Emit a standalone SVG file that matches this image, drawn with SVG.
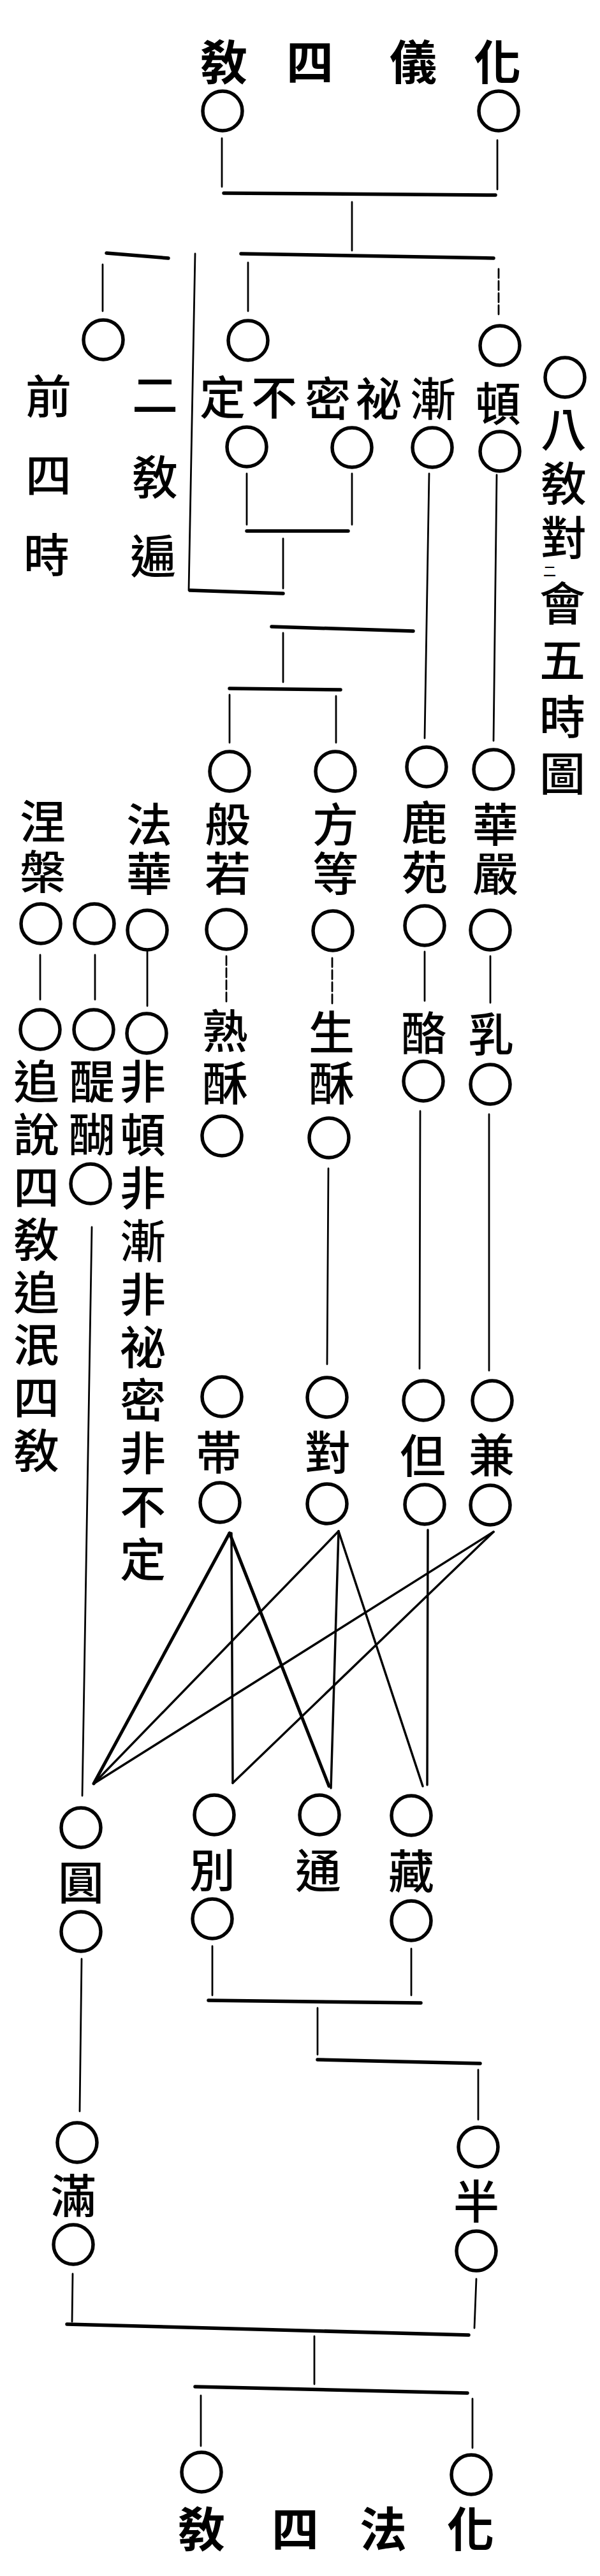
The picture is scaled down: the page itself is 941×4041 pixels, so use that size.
<svg xmlns="http://www.w3.org/2000/svg" width="941" height="4041" viewBox="0 0 941 4041">
<style>
.t{font-family:"Noto Sans CJK TC","Noto Sans CJK SC",sans-serif;font-size:72px;font-weight:500;text-anchor:middle;dominant-baseline:central;fill:#000}
.v{writing-mode:vertical-rl;text-anchor:start}
.tt{font-weight:700;font-size:74px}
.sm{font-size:20px}
.c{fill:none;stroke:#000;stroke-width:5.5}
.ln{fill:none;stroke:#000;stroke-width:2.8;stroke-linecap:round}
.bar{stroke-width:5.5}
.dash{stroke-dasharray:14 5}
.x{stroke-width:3.5}
.xb{stroke-width:5}
</style>
<rect width="941" height="4041" fill="#fff"/>
<g id="connectors">
<line class="ln" x1="348" y1="217" x2="348" y2="293"/>
<line class="ln" x1="780" y1="220" x2="780" y2="297"/>
<line class="ln bar" x1="351" y1="303" x2="777" y2="306"/>
<line class="ln" x1="552" y1="317" x2="552" y2="393"/>
<line class="ln bar" x1="378" y1="398" x2="774" y2="405"/>
<line class="ln bar" x1="167" y1="397" x2="264" y2="405"/>
<line class="ln" x1="306" y1="398" x2="296" y2="926"/>
<line class="ln" x1="161" y1="415" x2="161" y2="488"/>
<line class="ln" x1="389" y1="412" x2="389" y2="488"/>
<line class="ln dash" x1="782" y1="422" x2="782" y2="498"/>
<line class="ln" x1="387" y1="743" x2="387" y2="823"/>
<line class="ln" x1="552" y1="743" x2="552" y2="823"/>
<line class="ln bar" x1="387" y1="833" x2="546" y2="833"/>
<line class="ln" x1="444" y1="845" x2="444" y2="923"/>
<line class="ln bar" x1="298" y1="926" x2="444" y2="931"/>
<line class="ln" x1="673" y1="743" x2="666" y2="1158"/>
<line class="ln" x1="779" y1="745" x2="774" y2="1162"/>
<line class="ln bar" x1="426" y1="983" x2="648" y2="990"/>
<line class="ln" x1="444" y1="993" x2="444" y2="1070"/>
<line class="ln bar" x1="360" y1="1080" x2="534" y2="1082"/>
<line class="ln" x1="360" y1="1090" x2="360" y2="1165"/>
<line class="ln" x1="527" y1="1092" x2="527" y2="1165"/>
<line class="ln" x1="63" y1="1498" x2="63" y2="1568"/>
<line class="ln" x1="149" y1="1498" x2="149" y2="1568"/>
<line class="ln" x1="231" y1="1493" x2="231" y2="1578"/>
<line class="ln dash" x1="355" y1="1500" x2="355" y2="1573"/>
<line class="ln dash" x1="521" y1="1503" x2="521" y2="1575"/>
<line class="ln" x1="666" y1="1493" x2="666" y2="1570"/>
<line class="ln" x1="769" y1="1500" x2="769" y2="1573"/>
<line class="ln" x1="144" y1="1925" x2="129" y2="2817"/>
<line class="ln" x1="515" y1="1833" x2="513" y2="2140"/>
<line class="ln" x1="659" y1="1743" x2="658" y2="2147"/>
<line class="ln" x1="767" y1="1748" x2="767" y2="2150"/>
<line class="ln xb" x1="360" y1="2405" x2="147" y2="2798"/>
<line class="ln x" x1="147" y1="2798" x2="531" y2="2402"/>
<line class="ln x" x1="147" y1="2798" x2="774" y2="2403"/>
<line class="ln xb" x1="360" y1="2405" x2="516" y2="2802"/>
<line class="ln x" x1="363" y1="2405" x2="365" y2="2797"/>
<line class="ln x" x1="365" y1="2797" x2="774" y2="2403"/>
<line class="ln x" x1="531" y1="2402" x2="519" y2="2805"/>
<line class="ln x" x1="531" y1="2402" x2="663" y2="2802"/>
<line class="ln x" x1="671" y1="2400" x2="670" y2="2800"/>
<line class="ln" x1="128" y1="3073" x2="125" y2="3312"/>
<line class="ln" x1="333" y1="3053" x2="333" y2="3130"/>
<line class="ln" x1="645" y1="3057" x2="645" y2="3130"/>
<line class="ln bar" x1="327" y1="3138" x2="660" y2="3142"/>
<line class="ln" x1="498" y1="3150" x2="498" y2="3223"/>
<line class="ln bar" x1="498" y1="3231" x2="753" y2="3237"/>
<line class="ln" x1="750" y1="3247" x2="750" y2="3325"/>
<line class="ln" x1="114" y1="3567" x2="113" y2="3642"/>
<line class="ln" x1="747" y1="3575" x2="744" y2="3652"/>
<line class="ln bar" x1="105" y1="3646" x2="735" y2="3663"/>
<line class="ln" x1="493" y1="3665" x2="493" y2="3740"/>
<line class="ln bar" x1="306" y1="3744" x2="733" y2="3754"/>
<line class="ln" x1="315" y1="3758" x2="315" y2="3837"/>
<line class="ln" x1="741" y1="3763" x2="741" y2="3840"/>
</g>
<g id="title-top"><text class="t tt" x="351" y="92">敎</text><text class="t tt" x="486" y="92">四</text><text class="t tt" x="648" y="92">儀</text><text class="t tt" x="780" y="92">化</text></g>
<g id="n-top-l"><circle class="c" cx="349" cy="174" r="31"/></g>
<g id="n-top-r"><circle class="c" cx="782" cy="174" r="31"/></g>
<g id="n-qiansi"><circle class="c" cx="162" cy="533" r="31"/><text class="t" x="76" y="616">前</text><text class="t" x="76" y="740">四</text><text class="t" x="73" y="865">時</text><text class="t" x="243" y="614">二</text><text class="t" x="243" y="743">敎</text><text class="t" x="240" y="867">遍</text></g>
<g id="n-buding"><circle class="c" cx="389" cy="534" r="31"/><text class="t" x="349" y="618">定</text><text class="t" x="430" y="618">不</text><circle class="c" cx="387" cy="701" r="31"/></g>
<g id="n-mimi"><text class="t" x="514" y="620">密</text><text class="t" x="594" y="620">祕</text><circle class="c" cx="552" cy="702" r="31"/></g>
<g id="n-jian"><text class="t" x="679" y="620">漸</text><circle class="c" cx="678" cy="702" r="31"/></g>
<g id="n-dun"><circle class="c" cx="784" cy="542" r="31"/><text class="t" x="781" y="628">頓</text><circle class="c" cx="784" cy="708" r="31"/></g>
<g id="title-side"><circle class="c" cx="886" cy="592" r="31"/><text class="t v" x="884" y="637" letter-spacing="13">八敎對</text><text class="t sm" x="862" y="895">二</text><text class="t v" x="882" y="910" letter-spacing="17">會五時圖</text></g>
<g id="n-niepan"><text class="t v" x="67" y="1252" letter-spacing="7">涅槃</text><circle class="c" cx="64" cy="1449" r="31"/><circle class="c" cx="63" cy="1615" r="31"/><text class="t v" x="57" y="1660" letter-spacing="10.6">追說四敎追泯四敎</text></g>
<g id="n-tihu"><circle class="c" cx="148" cy="1449" r="31"/><circle class="c" cx="147" cy="1615" r="31"/><text class="t v" x="144" y="1660" letter-spacing="11">醍醐</text><circle class="c" cx="142" cy="1857" r="31"/></g>
<g id="n-fahua"><text class="t v" x="234" y="1257" letter-spacing="5">法華</text><circle class="c" cx="231" cy="1459" r="31"/><circle class="c" cx="230" cy="1621" r="31"/><text class="t v" x="224" y="1660" letter-spacing="11.3">非頓非漸非祕密非不定</text></g>
<g id="n-bore"><circle class="c" cx="360" cy="1210" r="31"/><text class="t v" x="357" y="1257" letter-spacing="5">般若</text><circle class="c" cx="355" cy="1458" r="31"/><text class="t v" x="353" y="1581" letter-spacing="10">熟酥</text><circle class="c" cx="348" cy="1782" r="31"/></g>
<g id="n-fangdeng"><circle class="c" cx="526" cy="1210" r="31"/><text class="t v" x="526" y="1257" letter-spacing="5">方等</text><circle class="c" cx="522" cy="1460" r="31"/><text class="t v" x="520" y="1583" letter-spacing="8">生酥</text><circle class="c" cx="516" cy="1785" r="31"/></g>
<g id="n-luyuan"><circle class="c" cx="669" cy="1203" r="31"/><text class="t v" x="666" y="1254" letter-spacing="6">鹿苑</text><circle class="c" cx="666" cy="1452" r="31"/><text class="t" x="665" y="1615">酪</text><circle class="c" cx="664" cy="1696" r="31"/></g>
<g id="n-huayan"><circle class="c" cx="774" cy="1207" r="31"/><text class="t v" x="777" y="1257" letter-spacing="5">華嚴</text><circle class="c" cx="769" cy="1459" r="31"/><text class="t" x="770" y="1617">乳</text><circle class="c" cx="769" cy="1701" r="31"/></g>
<g id="n-dai"><circle class="c" cx="348" cy="2191" r="31"/><text class="t" x="343" y="2273">帯</text><circle class="c" cx="345" cy="2357" r="31"/></g>
<g id="n-dui"><circle class="c" cx="513" cy="2192" r="31"/><text class="t" x="514" y="2273">對</text><circle class="c" cx="513" cy="2359" r="31"/></g>
<g id="n-dan"><circle class="c" cx="664" cy="2197" r="31"/><text class="t" x="663" y="2278">但</text><circle class="c" cx="666" cy="2360" r="31"/></g>
<g id="n-jian2"><circle class="c" cx="772" cy="2197" r="31"/><text class="t" x="771" y="2277">兼</text><circle class="c" cx="769" cy="2361" r="31"/></g>
<g id="n-yuan"><circle class="c" cx="127" cy="2867" r="31"/><text class="t" x="127" y="2947">圓</text><circle class="c" cx="127" cy="3030" r="31"/></g>
<g id="n-bie"><circle class="c" cx="336" cy="2847" r="31"/><text class="t" x="333" y="2928">別</text><circle class="c" cx="333" cy="3010" r="31"/></g>
<g id="n-tong"><circle class="c" cx="501" cy="2847" r="31"/><text class="t" x="499" y="2929">通</text></g>
<g id="n-zang"><circle class="c" cx="645" cy="2848" r="31"/><text class="t" x="645" y="2930">藏</text><circle class="c" cx="645" cy="3013" r="31"/></g>
<g id="n-man"><circle class="c" cx="121" cy="3361" r="31"/><text class="t" x="115" y="3439">滿</text><circle class="c" cx="115" cy="3521" r="31"/></g>
<g id="n-ban"><circle class="c" cx="750" cy="3368" r="31"/><text class="t" x="747" y="3448">半</text><circle class="c" cx="747" cy="3531" r="31"/></g>
<g id="n-bot-l"><circle class="c" cx="316" cy="3878" r="31"/></g>
<g id="n-bot-r"><circle class="c" cx="739" cy="3882" r="31"/></g>
<g id="title-bottom"><text class="t tt" x="316" y="3962">敎</text><text class="t tt" x="463" y="3962">四</text><text class="t tt" x="601" y="3962">法</text><text class="t tt" x="738" y="3962">化</text></g>
</svg>
